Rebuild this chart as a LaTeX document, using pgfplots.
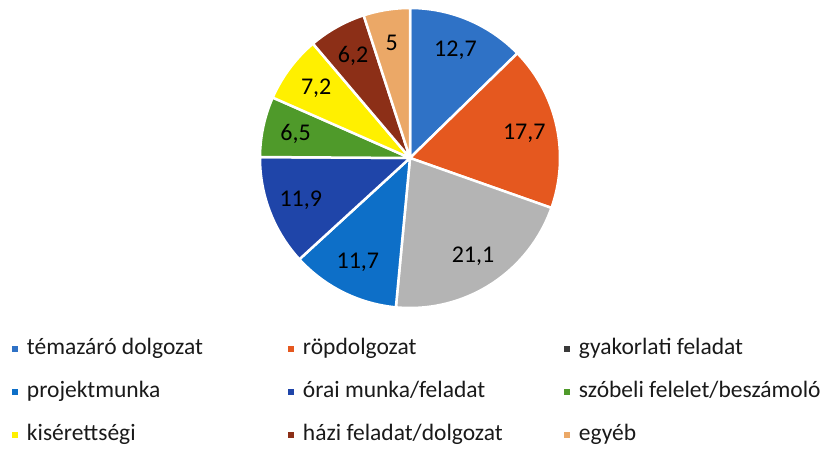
\documentclass[border=0pt]{standalone}
\usepackage{fontspec}
\setmainfont{Carlito}
\usepackage{pgfplots}
\pgfplotsset{compat=1.18}
\definecolor{cTema}{HTML}{2F72C6}
\definecolor{cRop}{HTML}{E5581F}
\definecolor{cGyak}{HTML}{B4B4B4}
\definecolor{cGyakLeg}{HTML}{3A3A3A}
\definecolor{cProj}{HTML}{0D6FC8}
\definecolor{cOrai}{HTML}{1F45A9}
\definecolor{cSzob}{HTML}{4F9A2A}
\definecolor{cKis}{HTML}{FFF000}
\definecolor{cHazi}{HTML}{8C2F17}
\definecolor{cEgyeb}{HTML}{EBA867}
\definecolor{ink}{HTML}{1A1A1A}

\newcommand\legendfont{\fontsize{23.5pt}{28pt}\selectfont}
\newcommand\labelfont{\fontsize{24pt}{28pt}\selectfont}

% pie slice: value (percent), colour
\newcommand\cum{0}
\newcommand\slice[2]{%
  \pgfmathsetmacro\sa{90-3.6*\cum}%
  \pgfmathsetmacro\sb{90-3.6*(\cum+#1)}%
  \edef\temp{\noexpand\addplot[fill=#2, draw=white, line width=2.5pt, line join=round,
    domain=\sb:\sa, samples=80, forget plot] ({cos(x)},{sin(x)}) -- (axis cs:0,0) -- cycle;}%
  \temp
  \pgfmathsetmacro\cum{\cum+#1}%
}
% value label in the middle of a slice
\newcommand\slicelabel[1]{%
  \pgfmathsetmacro\sm{90-3.6*(\cum+#1/2)}%
  \pgfmathsetmacro\lx{0.78*cos(\sm)}%
  \pgfmathsetmacro\ly{0.78*sin(\sm)}%
  \edef\temp{\noexpand\node[font=\noexpand\labelfont, text=black] at (axis cs:\lx,\ly)
    {\noexpand\pgfmathprintnumber[use comma, assume math mode=true]{#1}};}%
  \temp
  \pgfmathsetmacro\cum{\cum+#1}%
}

\begin{document}
\begin{tikzpicture}
\useasboundingbox (0,0) rectangle (825pt,452pt);
\begin{axis}[
    hide axis,
    scale only axis,
    width=300pt, height=300pt,
    xmin=-1, xmax=1, ymin=-1, ymax=1,
    at={(410pt,294pt)}, anchor=center,
    clip=false,
    legend columns=3,
    legend cell align=left,
    legend image code/.code={%
        \fill[#1, draw=none] (0pt,-3.25pt) rectangle (6.5pt,3.25pt);
        \path[draw=none, fill=none] (0pt,0pt) (15pt,0pt);
    },
    legend style={
        at={(-0.8267,-0.1)}, anchor=north west,
        draw=none, fill=none, inner sep=0pt, outer sep=0pt,
        row sep=21pt, column sep=0pt,
        font=\legendfont, text=ink,
        nodes={inner sep=0pt, text width=261pt, text height=16pt, text depth=6pt, align=flush left},
    },
]
\renewcommand\cum{0}
\slice{12.7}{cTema}
\slice{17.7}{cRop}
\slice{21.1}{cGyak}
\slice{11.7}{cProj}
\slice{11.9}{cOrai}
\slice{6.5}{cSzob}
\slice{7.2}{cKis}
\slice{6.2}{cHazi}
\slice{5}{cEgyeb}

\renewcommand\cum{0}
\slicelabel{12.7}
\slicelabel{17.7}
\slicelabel{21.1}
\slicelabel{11.7}
\slicelabel{11.9}
\slicelabel{6.5}
\slicelabel{7.2}
\slicelabel{6.2}
\slicelabel{5}

\addlegendimage{fill=cTema}\addlegendentry{témazáró dolgozat}
\addlegendimage{fill=cRop}\addlegendentry{röpdolgozat}
\addlegendimage{fill=cGyakLeg}\addlegendentry{gyakorlati feladat}
\addlegendimage{fill=cProj}\addlegendentry{projektmunka}
\addlegendimage{fill=cOrai}\addlegendentry{órai munka/feladat}
\addlegendimage{fill=cSzob}\addlegendentry{szóbeli felelet/beszámoló}
\addlegendimage{fill=cKis}\addlegendentry{kisérettségi}
\addlegendimage{fill=cHazi}\addlegendentry{házi feladat/dolgozat}
\addlegendimage{fill=cEgyeb}\addlegendentry{egyéb}
\end{axis}
\end{tikzpicture}
\end{document}
